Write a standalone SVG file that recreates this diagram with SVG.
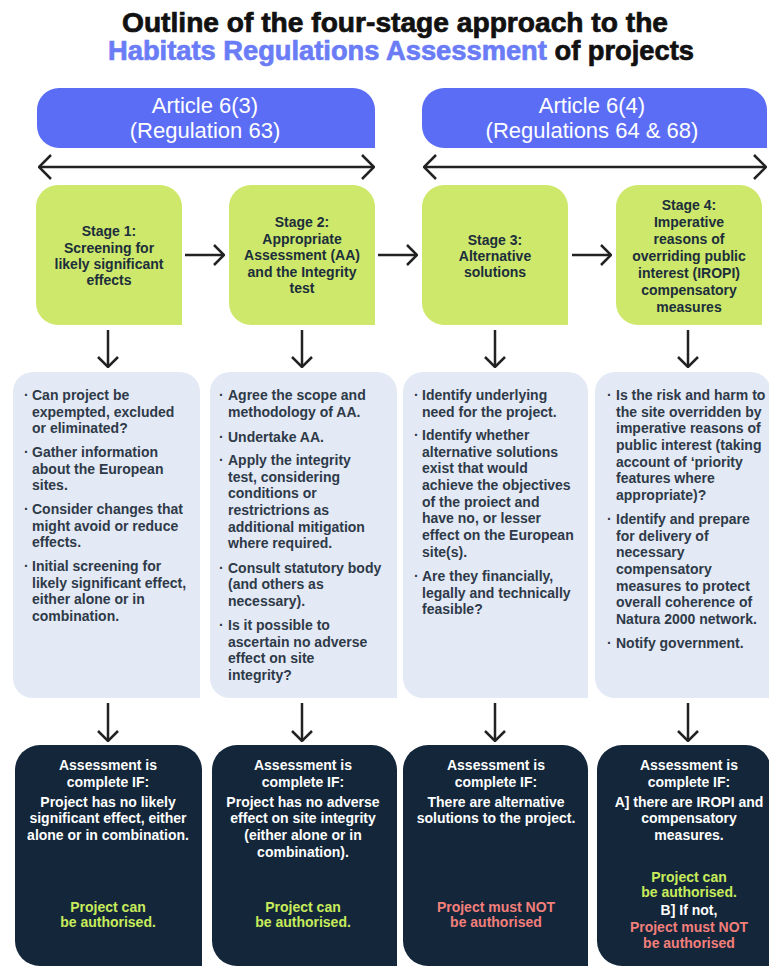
<svg xmlns="http://www.w3.org/2000/svg" width="769" height="967" viewBox="0 0 769 967">
<defs>
<style>
text{font-family:"Liberation Sans",Arial,sans-serif;font-weight:bold}
.title{font-size:27px;fill:#111;stroke:#111;stroke-width:0.7}
.tblue{fill:#6a7cf6;stroke:#6a7cf6}
.art{fill:#5b6df5}
.arttxt{font-size:22px;font-weight:normal;fill:#fff;text-anchor:middle}
.stage{fill:#cde86a}
.stxt{font-size:14px;fill:#1c2e3c;text-anchor:middle}
.light{fill:#e4e9f6}
.ltxt{font-size:14px;fill:#2e3a48}
.dark{fill:#13263a}
.dtxt{font-size:14px;fill:#fff;text-anchor:middle}
.green{fill:#c8ec5a}
.red{fill:#f27f7a}
.conn line{stroke:#222;stroke-width:2.5;fill:none}
</style>
<marker id="chevL" markerUnits="userSpaceOnUse" viewBox="0 0 14 26" markerWidth="14" markerHeight="26" refX="13" refY="13" orient="auto-start-reverse">
<path d="M1,1 L13,13 L1,25" fill="none" stroke="#222" stroke-width="2.5"/>
</marker>
<marker id="chevS" markerUnits="userSpaceOnUse" viewBox="0 0 12 22" markerWidth="12" markerHeight="22" refX="11" refY="11" orient="auto">
<path d="M1,1 L11,11 L1,21" fill="none" stroke="#222" stroke-width="2.5"/>
</marker>
</defs>
<rect width="769" height="967" fill="#fff"/>

<g id="title">
<text class="title" x="395" y="32" text-anchor="middle" textLength="546" lengthAdjust="spacingAndGlyphs">Outline of the four-stage approach to the</text>
<text class="title" x="108" y="60" textLength="586" lengthAdjust="spacingAndGlyphs"><tspan class="tblue">Habitats Regulations Assessment</tspan> of projects</text>
</g>

<g id="article63">
<path class="art" d="M59,88 H353 A22,22 0 0 1 375,110 V148 H59 A22,22 0 0 1 37,126 V110 A22,22 0 0 1 59,88 Z"/>
<text class="arttxt" x="205" y="113">Article 6(3)</text>
<text class="arttxt" x="205" y="138">(Regulation 63)</text>
</g>
<g id="article64">
<path class="art" d="M444,88 H745 A22,22 0 0 1 767,110 V148 H444 A22,22 0 0 1 422,126 V110 A22,22 0 0 1 444,88 Z"/>
<text class="arttxt" x="592" y="113">Article 6(4)</text>
<text class="arttxt" x="592" y="138">(Regulations 64 &amp; 68)</text>
</g>

<g id="stage1">
<path class="stage" d="M58,185 H160 A22,22 0 0 1 182,207 V325 H58 A22,22 0 0 1 36,303 V207 A22,22 0 0 1 58,185 Z"/>
<text class="stxt" x="109" y="236">Stage 1:</text>
<text class="stxt" x="109" y="253">Screening for</text>
<text class="stxt" x="109" y="269">likely significant</text>
<text class="stxt" x="109" y="285">effects</text>
</g>
<g id="stage2">
<path class="stage" d="M251,185 H353 A22,22 0 0 1 375,207 V325 H251 A22,22 0 0 1 229,303 V207 A22,22 0 0 1 251,185 Z"/>
<text class="stxt" x="302" y="227">Stage 2:</text>
<text class="stxt" x="302" y="244">Appropriate</text>
<text class="stxt" x="302" y="260">Assessment (AA)</text>
<text class="stxt" x="302" y="277">and the Integrity</text>
<text class="stxt" x="302" y="293">test</text>
</g>
<g id="stage3">
<path class="stage" d="M444,185 H546 A22,22 0 0 1 568,207 V325 H444 A22,22 0 0 1 422,303 V207 A22,22 0 0 1 444,185 Z"/>
<text class="stxt" x="495" y="245">Stage 3:</text>
<text class="stxt" x="495" y="261">Alternative</text>
<text class="stxt" x="495" y="277">solutions</text>
</g>
<g id="stage4">
<path class="stage" d="M638,185 H740 A22,22 0 0 1 762,207 V325 H638 A22,22 0 0 1 616,303 V207 A22,22 0 0 1 638,185 Z"/>
<text class="stxt" x="689" y="210">Stage 4:</text>
<text class="stxt" x="689" y="227">Imperative</text>
<text class="stxt" x="689" y="244">reasons of</text>
<text class="stxt" x="689" y="261">overriding public</text>
<text class="stxt" x="689" y="278">interest (IROPI)</text>
<text class="stxt" x="689" y="295">compensatory</text>
<text class="stxt" x="689" y="312">measures</text>
</g>

<g id="list1">
<path class="light" d="M33,372 H180 A20,20 0 0 1 200,392 V698 H33 A20,20 0 0 1 13,678 V392 A20,20 0 0 1 33,372 Z"/>
<g class="ltxt">
<text x="24" y="400">·</text><text x="32" y="400">Can project be</text>
<text x="32" y="417">expempted, excluded</text>
<text x="32" y="433">or eliminated?</text>
<text x="24" y="457">·</text><text x="32" y="457">Gather information</text>
<text x="32" y="474">about the European</text>
<text x="32" y="490">sites.</text>
<text x="24" y="514">·</text><text x="32" y="514">Consider changes that</text>
<text x="32" y="531">might avoid or reduce</text>
<text x="32" y="547">effects.</text>
<text x="24" y="571">·</text><text x="32" y="571">Initial screening for</text>
<text x="32" y="588">likely significant effect,</text>
<text x="32" y="604">either alone or in</text>
<text x="32" y="621">combination.</text>
</g>
</g>
<g id="list2">
<path class="light" d="M230,372 H377 A20,20 0 0 1 397,392 V698 H230 A20,20 0 0 1 210,678 V392 A20,20 0 0 1 230,372 Z"/>
<g class="ltxt">
<text x="219" y="400">·</text><text x="228" y="400">Agree the scope and</text>
<text x="228" y="417">methodology of AA.</text>
<text x="219" y="442">·</text><text x="228" y="442">Undertake AA.</text>
<text x="219" y="465">·</text><text x="228" y="465">Apply the integrity</text>
<text x="228" y="482">test, considering</text>
<text x="228" y="498">conditions or</text>
<text x="228" y="515">restrictrions as</text>
<text x="228" y="532">additional mitigation</text>
<text x="228" y="548">where required.</text>
<text x="219" y="573">·</text><text x="228" y="573">Consult statutory body</text>
<text x="228" y="589">(and others as</text>
<text x="228" y="606">necessary).</text>
<text x="219" y="630">·</text><text x="228" y="630">Is it possible to</text>
<text x="228" y="647">ascertain no adverse</text>
<text x="228" y="663">effect on site</text>
<text x="228" y="680">integrity?</text>
</g>
</g>
<g id="list3">
<path class="light" d="M423,372 H568 A20,20 0 0 1 588,392 V698 H423 A20,20 0 0 1 403,678 V392 A20,20 0 0 1 423,372 Z"/>
<g class="ltxt">
<text x="414" y="400">·</text><text x="422" y="400">Identify underlying</text>
<text x="422" y="417">need for the project.</text>
<text x="414" y="440">·</text><text x="422" y="440">Identify whether</text>
<text x="422" y="457">alternative solutions</text>
<text x="422" y="473">exist that would</text>
<text x="422" y="490">achieve the objectives</text>
<text x="422" y="507">of the proiect and</text>
<text x="422" y="523">have no, or lesser</text>
<text x="422" y="540">effect on the European</text>
<text x="422" y="557">site(s).</text>
<text x="414" y="581">·</text><text x="422" y="581">Are they financially,</text>
<text x="422" y="598">legally and technically</text>
<text x="422" y="614">feasible?</text>
</g>
</g>
<g id="list4">
<path class="light" d="M615,372 H751 A20,20 0 0 1 771,392 V698 H615 A20,20 0 0 1 595,678 V392 A20,20 0 0 1 615,372 Z"/>
<g class="ltxt">
<text x="607" y="400">·</text><text x="616" y="400">Is the risk and harm to</text>
<text x="616" y="417">the site overridden by</text>
<text x="616" y="433">imperative reasons of</text>
<text x="616" y="450">public interest (taking</text>
<text x="616" y="467">account of ‘priority</text>
<text x="616" y="483">features where</text>
<text x="616" y="500">appropriate)?</text>
<text x="607" y="524">·</text><text x="616" y="524">Identify and prepare</text>
<text x="616" y="541">for delivery of</text>
<text x="616" y="557">necessary</text>
<text x="616" y="574">compensatory</text>
<text x="616" y="591">measures to protect</text>
<text x="616" y="607">overall coherence of</text>
<text x="616" y="624">Natura 2000 network.</text>
<text x="607" y="648">·</text><text x="616" y="648">Notify government.</text>
</g>
</g>

<g id="outcome1">
<path class="dark" d="M40,745 H177 A25,25 0 0 1 202,770 V966 H40 A25,25 0 0 1 15,941 V770 A25,25 0 0 1 40,745 Z"/>
<text class="dtxt" x="108" y="770">Assessment is</text>
<text class="dtxt" x="108" y="787">complete IF:</text>
<text class="dtxt" x="108" y="807">Project has no likely</text>
<text class="dtxt" x="108" y="823">significant effect, either</text>
<text class="dtxt" x="108" y="840">alone or in combination.</text>
<text class="dtxt green" x="108" y="912">Project can</text>
<text class="dtxt green" x="108" y="927">be authorised.</text>
</g>
<g id="outcome2">
<path class="dark" d="M237,745 H372 A25,25 0 0 1 397,770 V966 H237 A25,25 0 0 1 212,941 V770 A25,25 0 0 1 237,745 Z"/>
<text class="dtxt" x="303" y="770">Assessment is</text>
<text class="dtxt" x="303" y="787">complete IF:</text>
<text class="dtxt" x="303" y="807">Project has no adverse</text>
<text class="dtxt" x="303" y="823">effect on site integrity</text>
<text class="dtxt" x="303" y="840">(either alone or in</text>
<text class="dtxt" x="303" y="857">combination).</text>
<text class="dtxt green" x="303" y="912">Project can</text>
<text class="dtxt green" x="303" y="927">be authorised.</text>
</g>
<g id="outcome3">
<path class="dark" d="M428,745 H563 A25,25 0 0 1 588,770 V966 H428 A25,25 0 0 1 403,941 V770 A25,25 0 0 1 428,745 Z"/>
<text class="dtxt" x="496" y="770">Assessment is</text>
<text class="dtxt" x="496" y="787">complete IF:</text>
<text class="dtxt" x="496" y="807">There are alternative</text>
<text class="dtxt" x="496" y="823">solutions to the project.</text>
<text class="dtxt red" x="496" y="912">Project must NOT</text>
<text class="dtxt red" x="496" y="927">be authorised</text>
</g>
<g id="outcome4">
<path class="dark" d="M622,745 H746 A25,25 0 0 1 771,770 V966 H622 A25,25 0 0 1 597,941 V770 A25,25 0 0 1 622,745 Z"/>
<text class="dtxt" x="689" y="770">Assessment is</text>
<text class="dtxt" x="689" y="787">complete IF:</text>
<text class="dtxt" x="689" y="807">A] there are IROPI and</text>
<text class="dtxt" x="689" y="823">compensatory</text>
<text class="dtxt" x="689" y="840">measures.</text>
<text class="dtxt green" x="689" y="882">Project can</text>
<text class="dtxt green" x="689" y="897">be authorised.</text>
<text class="dtxt" x="689" y="915">B] If not,</text>
<text class="dtxt red" x="689" y="932">Project must NOT</text>
<text class="dtxt red" x="689" y="948">be authorised</text>
</g>

<g id="connectors" class="conn">
<line x1="39" y1="167" x2="374" y2="167" marker-start="url(#chevL)" marker-end="url(#chevL)"/>
<line x1="424" y1="167" x2="766" y2="167" marker-start="url(#chevL)" marker-end="url(#chevL)"/>
<line x1="185" y1="255" x2="224" y2="255" marker-end="url(#chevS)"/>
<line x1="378" y1="255" x2="417" y2="255" marker-end="url(#chevS)"/>
<line x1="572" y1="255" x2="611" y2="255" marker-end="url(#chevS)"/>
<line x1="108" y1="330" x2="108" y2="367" marker-end="url(#chevS)"/>
<line x1="302" y1="330" x2="302" y2="367" marker-end="url(#chevS)"/>
<line x1="495" y1="330" x2="495" y2="367" marker-end="url(#chevS)"/>
<line x1="688" y1="330" x2="688" y2="367" marker-end="url(#chevS)"/>
<line x1="108" y1="703" x2="108" y2="741" marker-end="url(#chevS)"/>
<line x1="302" y1="703" x2="302" y2="741" marker-end="url(#chevS)"/>
<line x1="495" y1="703" x2="495" y2="741" marker-end="url(#chevS)"/>
<line x1="688" y1="703" x2="688" y2="741" marker-end="url(#chevS)"/>
</g>
</svg>
